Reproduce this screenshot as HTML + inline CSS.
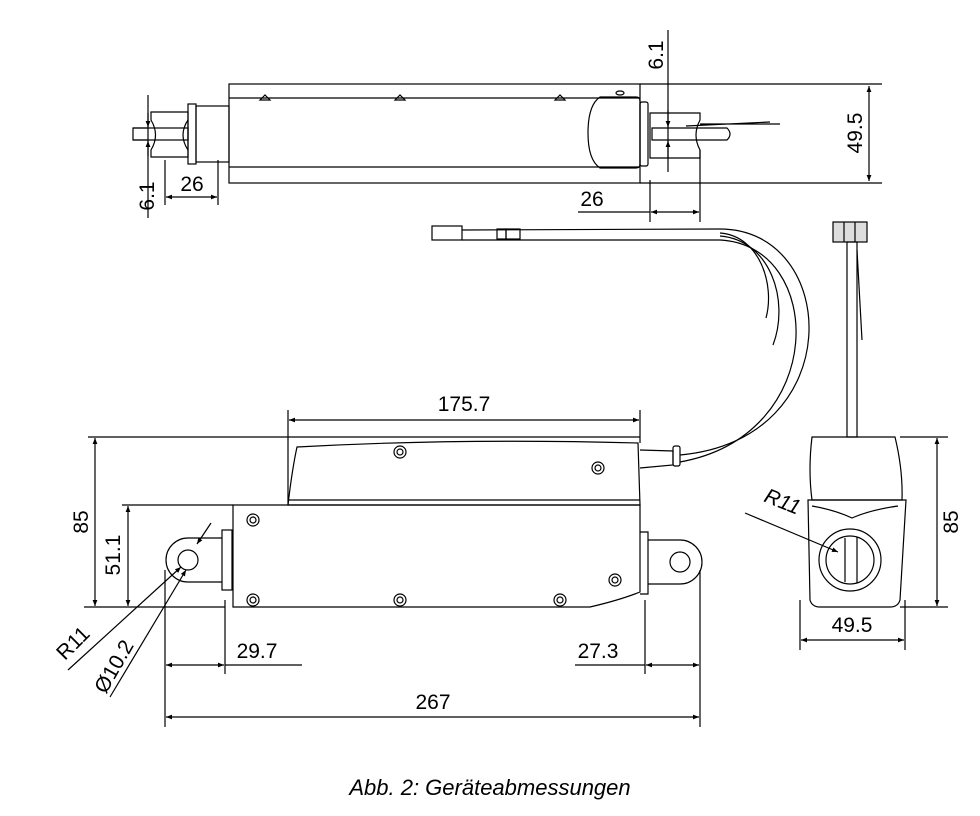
<!DOCTYPE html>
<html><head><meta charset="utf-8"><style>
html,body{margin:0;padding:0;background:#fff;}
svg{display:block;font-family:"Liberation Sans",sans-serif;}
</style></head><body>
<svg width="980" height="816" viewBox="0 0 980 816" xmlns="http://www.w3.org/2000/svg">
<defs>
<marker id="a" viewBox="0 0 10 10" refX="10" refY="5" markerWidth="14" markerHeight="6" markerUnits="userSpaceOnUse" orient="auto-start-reverse"><path d="M0,1 L10,5 L0,9 z" fill="#000"/></marker>
</defs>
<g fill="none" stroke="#000" stroke-width="1.2">
<!-- TOP VIEW -->
<rect x="229" y="84" width="411" height="99"/>
<line x1="229" y1="98" x2="640" y2="98"/>
<line x1="229" y1="167" x2="640" y2="167"/>
<rect x="188" y="104" width="8" height="60"/>
<rect x="196" y="106" width="33" height="56"/>
<path d="M151,112 L188,112 L188,157 L151,157 L151,150 Q160,135 151,120 Z"/>
<path d="M188,120 Q178,135 188,150"/>
<rect x="133" y="128" width="55" height="12"/>
<path d="M600,97 L636,97 Q640,97 640,101 L640,164 Q640,168 636,168 L600,168 Q588,160 588,133 Q588,105 600,97 Z"/>
<rect x="640" y="102" width="8" height="64" rx="2"/>
<path d="M650,113 L700,113 L700,120 Q692,135 700,150 L700,158 L650,158 Z"/>
<path d="M652,128 L727,128 Q733,134 727,140 L652,140 Z"/>
<path d="M686,126 L770,122 M700,124 L780,124"/>
<path d="M260,100 l5,-5 l5,5 z M395,100 l5,-5 l5,5 z M555,100 l5,-5 l5,5 z"/>
<ellipse cx="620" cy="93" rx="4" ry="2"/>
<!-- top dims -->
<line x1="640" y1="84" x2="882" y2="84"/>
<line x1="640" y1="183" x2="882" y2="183"/>
<line x1="869" y1="86" x2="869" y2="181" marker-start="url(#a)" marker-end="url(#a)"/>
<line x1="148" y1="95" x2="148" y2="218"/>
<line x1="133" y1="128" x2="148" y2="128"/><line x1="133" y1="140" x2="148" y2="140"/>
<path d="M148,113 L148,127" marker-end="url(#a)"/><path d="M148,156 L148,141" marker-end="url(#a)"/>
<line x1="165" y1="160" x2="165" y2="205"/><line x1="218" y1="160" x2="218" y2="205"/>
<line x1="166" y1="197" x2="217" y2="197" marker-start="url(#a)" marker-end="url(#a)"/>
<line x1="668" y1="30" x2="668" y2="172"/>
<path d="M668,110 L668,127" marker-end="url(#a)"/><path d="M668,158 L668,141" marker-end="url(#a)"/>
<line x1="650" y1="180" x2="650" y2="222"/><line x1="700" y1="150" x2="700" y2="222"/>
<line x1="578" y1="212" x2="650" y2="212"/>
<line x1="651" y1="212" x2="699" y2="212" marker-start="url(#a)" marker-end="url(#a)"/>
<!-- CABLE -->
<rect x="432" y="226" width="30" height="14"/>
<rect x="497" y="229" width="9" height="10"/><rect x="506" y="229" width="14" height="10"/>
<path d="M462,230 L720,229 C840,229 850,440 680,455"/>
<path d="M462,240 L720,240 C825,245 830,435 680,462"/>
<path d="M720,233 C760,236 775,285 766,318"/>
<path d="M720,236 C770,240 790,300 773,345"/>
<rect x="833" y="222" width="34" height="20" fill="#ddd"/>
<line x1="844" y1="222" x2="844" y2="242"/><line x1="855" y1="222" x2="855" y2="242"/>
<rect x="847" y="242" width="10" height="195"/>
<path d="M857,250 L862,340"/>
<!-- SIDE VIEW -->
<path d="M297,447 Q460,438 638,443 L640,505 L288,505 Q292,470 297,447 Z"/>
<line x1="288" y1="500" x2="640" y2="500"/>
<path d="M233,505 L640,505 L640,592 Q620,600 590,607 L233,607 Z"/>
<path d="M640,450 L673,451 L673,465 L640,468"/>
<rect x="673" y="446" width="7" height="20" rx="2"/>
<path d="M222,538 L188,538 A22,22 0 0 0 188,582 L222,582"/>
<circle cx="188" cy="560" r="10"/>
<rect x="222" y="530" width="10" height="60"/>
<path d="M640,532 L648,532 L648,594 L640,594"/>
<path d="M648,540 L680,540 A22,22 0 0 1 680,584 L648,584"/>
<circle cx="680" cy="562" r="10"/>
<g>
<circle cx="400" cy="452" r="6"/><circle cx="400" cy="452" r="3"/>
<circle cx="598" cy="468" r="6"/><circle cx="598" cy="468" r="3"/>
<circle cx="253" cy="520" r="6"/><circle cx="253" cy="520" r="3"/>
<circle cx="253" cy="600" r="6"/><circle cx="253" cy="600" r="3"/>
<circle cx="400" cy="600" r="6"/><circle cx="400" cy="600" r="3"/>
<circle cx="560" cy="600" r="6"/><circle cx="560" cy="600" r="3"/>
<circle cx="615" cy="580" r="6"/><circle cx="615" cy="580" r="3"/>
</g>
<!-- side dims -->
<line x1="288" y1="410" x2="288" y2="505"/><line x1="640" y1="410" x2="640" y2="443"/>
<line x1="289" y1="420" x2="639" y2="420" marker-start="url(#a)" marker-end="url(#a)"/>
<line x1="88" y1="437" x2="640" y2="437"/>
<line x1="122" y1="505" x2="233" y2="505"/>
<line x1="84" y1="607" x2="225" y2="607"/>
<line x1="95" y1="438" x2="95" y2="606" marker-start="url(#a)" marker-end="url(#a)"/>
<line x1="128" y1="506" x2="128" y2="606" marker-start="url(#a)" marker-end="url(#a)"/>
<line x1="165" y1="570" x2="165" y2="727"/><line x1="225" y1="600" x2="225" y2="674"/>
<line x1="645" y1="600" x2="645" y2="674"/><line x1="700" y1="570" x2="700" y2="727"/>
<line x1="166" y1="665" x2="224" y2="665" marker-start="url(#a)" marker-end="url(#a)"/>
<line x1="225" y1="665" x2="302" y2="665"/>
<line x1="575" y1="665" x2="645" y2="665"/>
<line x1="646" y1="665" x2="699" y2="665" marker-start="url(#a)" marker-end="url(#a)"/>
<line x1="166" y1="717" x2="699" y2="717" marker-start="url(#a)" marker-end="url(#a)"/>
<line x1="68" y1="670" x2="181" y2="567" marker-end="url(#a)"/>
<line x1="110" y1="697" x2="186" y2="570" marker-end="url(#a)"/>
<path d="M211,523 L197,544" marker-end="url(#a)"/>
<!-- END VIEW -->
<path d="M812,437 L895,437 Q903,470 902,500 L812,500 Q808,470 812,437 Z"/>
<path d="M808,500 L906,500 L900,600 Q898,607 890,607 L820,607 Q812,607 810,600 Z"/>
<path d="M812,506 Q835,510 852,518 Q870,510 898,506"/>
<circle cx="850" cy="560" r="31"/><circle cx="850" cy="560" r="24"/>
<line x1="845" y1="538" x2="845" y2="582"/><line x1="857" y1="537" x2="857" y2="583"/>
<line x1="900" y1="437" x2="948" y2="437"/><line x1="900" y1="607" x2="948" y2="607"/>
<line x1="937" y1="438" x2="937" y2="606" marker-start="url(#a)" marker-end="url(#a)"/>
<line x1="800" y1="600" x2="800" y2="650"/><line x1="905" y1="600" x2="905" y2="650"/>
<line x1="801" y1="640" x2="904" y2="640" marker-start="url(#a)" marker-end="url(#a)"/>
<line x1="745" y1="513" x2="838" y2="552" marker-end="url(#a)"/>
</g>
<g font-size="21" fill="#000">
<text x="192" y="191" text-anchor="middle">26</text>
<text x="592" y="206" text-anchor="middle">26</text>
<text transform="translate(154,196) rotate(-90)" text-anchor="middle">6.1</text>
<text transform="translate(663,55) rotate(-90)" text-anchor="middle">6.1</text>
<text transform="translate(862,133) rotate(-90)" text-anchor="middle">49.5</text>
<text x="464" y="411" text-anchor="middle">175.7</text>
<text transform="translate(88,522) rotate(-90)" text-anchor="middle">85</text>
<text transform="translate(120,555) rotate(-90)" text-anchor="middle">51.1</text>
<text x="257" y="658" text-anchor="middle">29.7</text>
<text x="598" y="658" text-anchor="middle">27.3</text>
<text x="433" y="709" text-anchor="middle">267</text>
<text transform="translate(78,648) rotate(-45)" text-anchor="middle">R11</text>
<text transform="translate(120,670) rotate(-60)" text-anchor="middle">Ø10.2</text>
<text transform="translate(958,522) rotate(-90)" text-anchor="middle">85</text>
<text x="852" y="632" text-anchor="middle">49.5</text>
<text transform="translate(780,508) rotate(22)" text-anchor="middle" font-style="italic">R11</text>
</g>
<text x="490" y="795" text-anchor="middle" font-size="22" font-style="italic" font-family="'Liberation Sans',sans-serif">Abb. 2: Geräteabmessungen</text>
</svg>
</body></html>
